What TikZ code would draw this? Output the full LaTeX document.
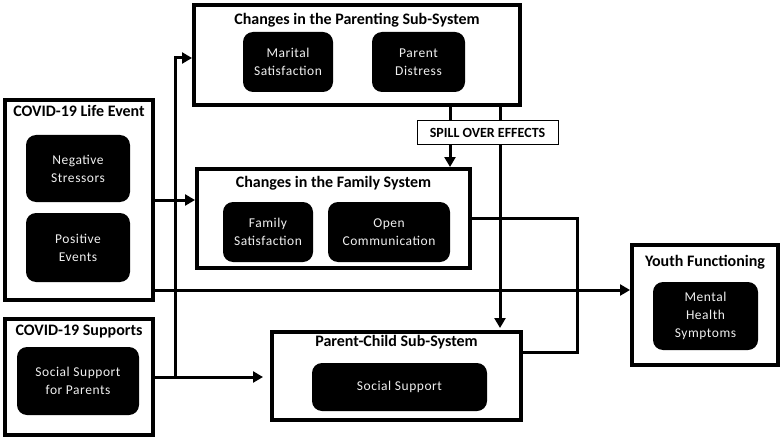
\documentclass[tikz,border=0pt]{standalone}
\usepackage{fontspec}
\setmainfont{Carlito}
\usetikzlibrary{arrows.meta}
\begin{document}
\begin{tikzpicture}[x=1pt,y=-1pt,
  box/.style={draw=black, line width=4pt, fill=white, inner sep=0pt},
  inbox/.style={fill=black, rounded corners=10pt, text=gray!12, inner sep=0pt, align=center,
    font=\fontsize{13.5}{18}\selectfont\addfontfeatures{LetterSpace=4}},
  ttl/.style={inner sep=0pt, font=\fontsize{16}{19}\selectfont\bfseries},
  spillbox/.style={draw=black, line width=1pt, fill=white, inner sep=0pt, minimum width=141pt, minimum height=23pt,
    font=\fontsize{14}{16}\selectfont\bfseries},
  conn/.style={line width=3pt},
  arr/.style={conn, -{Triangle[length=10pt,width=11pt]}}]
\useasboundingbox (0,0) rectangle (784,441);
% outer boxes
\node[box, minimum width=148pt, minimum height=200pt] (life) at (79,200) {};
\node[box, minimum width=148pt, minimum height=116pt] (supp) at (79,377) {};
\node[box, minimum width=326pt, minimum height=100pt] (par) at (357,55) {};
\node[box, minimum width=273pt, minimum height=99pt] (fam) at (333.5,218.5) {};
\node[box, minimum width=249pt, minimum height=88pt] (pc) at (396.5,376) {};
\node[box, minimum width=146pt, minimum height=120pt] (youth) at (705,305) {};
% titles
\node[ttl] (lifet) at (79,111) {COVID-19 Life Event};
\node[ttl] (suppt) at (79,332) {COVID-19 Supports};
\node[ttl] (part) at (357,20) {Changes in the Parenting Sub-System};
\node[ttl] (famt) at (333.5,183) {Changes in the Family System};
\node[ttl] (pct) at (396.5,342) {Parent-Child Sub-System};
\node[ttl] (youtht) at (705,262) {Youth Functioning};
% inner boxes
\node[inbox, minimum width=104pt, minimum height=67pt] (neg) at (78,168.5) {Negative\\Stressors};
\node[inbox, minimum width=104pt, minimum height=69pt] (pos) at (78,247.5) {Positive\\Events};
\node[inbox, minimum width=122pt, minimum height=68pt] (ssp) at (78,381) {Social Support\\for Parents};
\node[inbox, minimum width=90pt, minimum height=60pt] (mar) at (288,62) {Marital\\Satisfaction};
\node[inbox, minimum width=93pt, minimum height=60pt] (pd) at (418.5,62) {Parent\\Distress};
\node[inbox, minimum width=90pt, minimum height=60pt] (fs) at (268,232) {Family\\Satisfaction};
\node[inbox, minimum width=122pt, minimum height=60pt] (oc) at (389,232) {Open\\Communication};
\node[inbox, minimum width=175pt, minimum height=48pt] (ss) at (399.5,387) {Social Support};
\node[inbox, minimum width=105pt, minimum height=68pt] (mh) at (705.5,316) {Mental\\Health\\Symptoms};
% connectors
\coordinate (j1) at (175,377);
\coordinate (l2) at ([yshift=-90pt]life.east);
\coordinate (s1) at (450,0);
\coordinate (s2) at (500,0);
\coordinate (r) at (577,0);
\coordinate (pce) at ([yshift=24pt]pc.east);
\draw[conn] (supp.east) -- (j1);
\draw[arr] (j1) |- ([yshift=-3pt]par.west);
\draw[arr, shorten >=7pt] (j1) -- (j1 -| pc.west);
\draw[arr] (life.east) -- (life.east -| fam.west);
\draw[arr] (l2) -- (l2 -| youth.west);
\draw[arr, shorten >=2pt] (par.south -| s2) -- (pc.north -| s2);
\draw[conn] (fam.east) -| (r |- pce) -- (pce);
\node[spillbox] (spill) at (487.5,132.5) {SPILL OVER EFFECTS};
\draw[conn] (par.south -| s1) -- (spill.north -| s1);
\draw[arr] (spill.south -| s1) -- (fam.north -| s1);
\end{tikzpicture}
\end{document}
